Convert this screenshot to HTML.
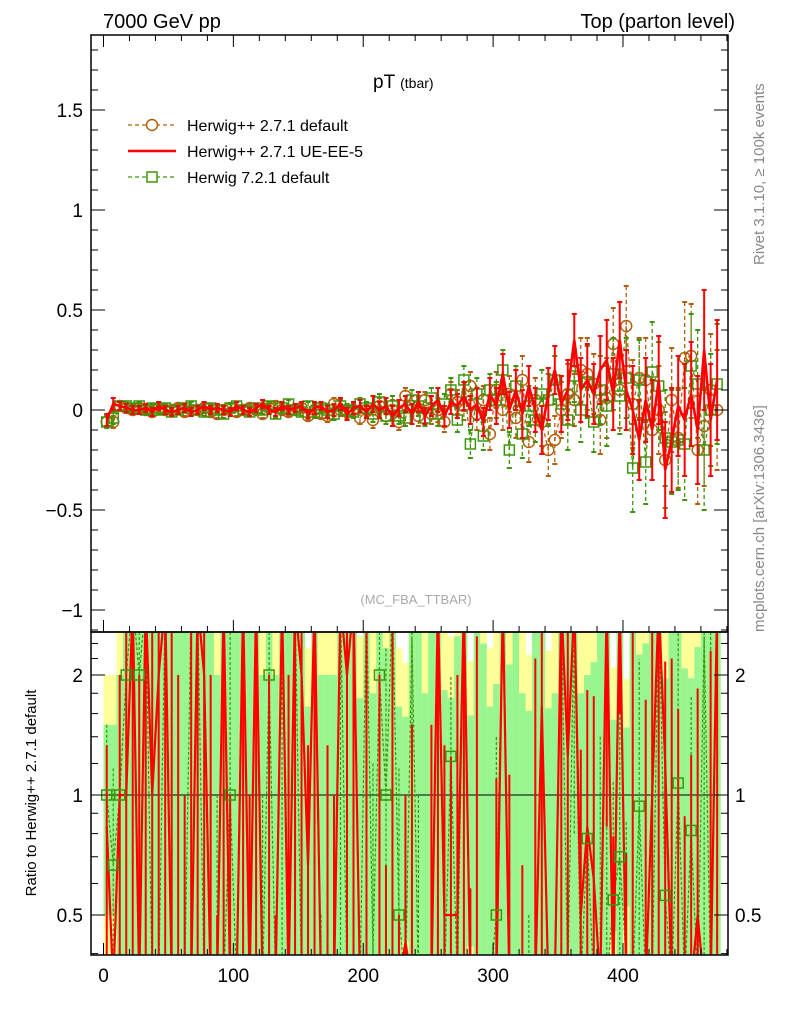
<!DOCTYPE html>
<html><head><meta charset="utf-8"><style>
html,body{margin:0;background:#fff;width:786px;height:1024px;overflow:hidden;}
svg{display:block;font-family:"Liberation Sans",sans-serif;overflow:hidden;}
</style></head><body>
<svg id="c" width="786" height="1024" viewBox="0 0 786 1024"></svg>
<script>
const xs = [];
for (let i = 0; i < 95; i++) xs.push(2.5 + 5 * i);
const brownVals = [-0.06,-0.06,0.02,0.01,0.0,0.01,0.0,-0.01,0.01,0.0, 0.0,0.01,-0.01,0.0,0.0,0.01,-0.01,-0.02,0.0,0.01, -0.01,0.0,0.01,0.0,-0.02,0.01,0.02,0.0,-0.01,0.0, 0.01,-0.03,0.0,-0.02,-0.03,0.03,0.0,-0.01,0.0,-0.04, 0.0,-0.05,0.02,-0.03,0.0,-0.06,
0.07,0.02,-0.03,0.05,-0.02,0.0,-0.06,0.08,0.04,0.02, 0.12,-0.02,0.05,-0.12,0.1,0.0,0.08,-0.04,0.15,-0.16, 0.05,-0.06,-0.2,-0.15,0.0,0.08,0.05,0.2,0.18,0.13, -0.05,0.06,0.33,0.1,0.42,0.03,0.16,0.15,-0.1,0.0, -0.25,0.05,-0.14,0.26,0.27,-0.2,-0.08,0.1,0.0];
const redVals = [-0.05,0.03,0.02,0.01,0.0,0.0,0.01,-0.01,0.02,0.0, -0.01,0.0,0.01,-0.01,0.0,0.02,0.0,0.01,0.0,-0.01, 0.02,0.0,-0.01,0.01,0.03,0.0,-0.01,0.02,0.0,0.01, 0.02,-0.02,0.01,0.02,-0.01,0.0,0.03,-0.02,0.01,0.02, -0.01,0.03,0.0,0.02,-0.03,0.01,
0.03,-0.02,0.04,-0.03,0.02,0.05,-0.03,0.04,0.02,0.07, 0.0,0.03,-0.06,0.08,0.02,0.18,0.0,0.1,-0.02,0.12, 0.0,-0.1,0.08,0.2,0.03,0.1,0.35,0.1,0.15,0.08, 0.2,0.25,0.08,0.35,0.1,0.0,-0.15,0.05,-0.1,0.15, -0.3,-0.15,0.02,-0.05,0.08,-0.1,0.3,-0.05,0.15];
const greenVals = [-0.06,-0.04,0.02,0.02,0.01,0.02,0.0,0.01,0.0,0.01, -0.01,0.0,0.01,0.02,0.0,-0.01,0.01,0.0,-0.02,0.01, 0.02,0.0,-0.01,0.01,0.0,0.02,-0.02,0.01,0.03,0.0, -0.01,0.02,-0.01,0.01,0.0,-0.02,0.02,0.0,-0.01,0.03, 0.01,-0.02,0.04,-0.03,0.02,-0.03,
-0.04,0.05,0.02,-0.04,0.06,-0.02,0.03,0.1,-0.05,0.15, -0.17,0.08,-0.13,0.1,0.05,0.2,-0.2,0.12,-0.12,0.02, -0.05,0.08,0.05,0.15,0.03,-0.05,0.17,0.0,0.14,-0.06, 0.1,0.02,0.18,0.07,0.16,-0.29,0.15,-0.26,0.19,0.12, -0.14,-0.16,-0.15,-0.17,0.22,0.13,-0.2,0.0,0.13];
const errs = [0.03,0.03,0.02,0.02,0.02,0.02,0.02,0.02,0.02,0.02, 0.02,0.02,0.02,0.02,0.02,0.02,0.02,0.02,0.02,0.02, 0.02,0.02,0.02,0.02,0.02,0.02,0.02,0.02,0.02,0.02, 0.02,0.02,0.03,0.02,0.03,0.03,0.03,0.03,0.03,0.03,
0.03,0.04,0.04,0.04,0.05,0.04,0.04,0.05,0.05,0.04, 0.05,0.06,0.05,0.06,0.06,0.07,0.07,0.08,0.07,0.08, 0.09,0.1,0.09,0.1,0.12,0.1,0.11,0.12,0.13,0.12, 0.14,0.15,0.13,0.16,0.18,0.15,0.17,0.2,0.18,0.19, 0.2,0.22,0.2,0.21,0.25,0.22,0.24,0.26,0.25,0.28, 0.26,0.27,0.3,0.28,0.3];
const xTicks = [0,100,200,300,400];
const yTicks = [-1,-0.5,0,0.5,1,1.5];
const yTickLabels = ["\u22121","\u22120.5","0","0.5","1","1.5"];
const rTicks = [0.5,1,2];

const svg = document.getElementById('c');
const NS = 'http://www.w3.org/2000/svg';
function el(tag, attrs, parent) {
  const e = document.createElementNS(NS, tag);
  for (const k in attrs) e.setAttribute(k, attrs[k]);
  (parent || svg).appendChild(e);
  return e;
}
const L = 91, R = 728, T = 35, MB = 632, RB = 955;
const X = v => 103.5 + (v) * 1.2987;
const Y = v => 410 - v * 200;
const RY0 = 795, RK = 120;
const RY = v => v <= 0 ? RB + 30 : RY0 - Math.log2(v) * RK;
const BLUE = '#b35f0e', RED = '#ff0000', GRN = '#3c960a';
const clampR = y => Math.min(RB + 30, Math.max(MB - 30, y));

const defs = el('defs', {});
const cp1 = el('clipPath', {id: 'cm'}, defs); el('rect', {x: L, y: T, width: R - L, height: MB - T}, cp1);
const cp2 = el('clipPath', {id: 'cr'}, defs); el('rect', {x: L, y: MB, width: R - L, height: RB - MB}, cp2);

const gR = el('g', {'clip-path': 'url(#cr)'});


for (let i = 0; i < xs.length; i++) {
  const b = brownVals[i], e = errs[i];
  const rel = Math.abs(b) < 1e-6 ? 1e6 : e / Math.abs(b);
  const x0 = X(xs[i] - 2.5), w = X(xs[i] + 2.5) - x0 + 0.3;
  const yt = clampR(RY(1 + 2 * rel)), yb = clampR(RY(1 - 2 * rel));
  const r1 = el('rect', {x: x0, y: yt, width: w, height: Math.max(0, yb - yt), fill: '#ffff99'}, gR);
  
  
  const gt = clampR(RY(1 + rel)), gb = clampR(RY(1 - rel));
  const r2 = el('rect', {x: x0, y: gt, width: w, height: Math.max(0, gb - gt), fill: '#99f58f'}, gR);
  
  
}
el('line', {x1: L, x2: R, y1: RY(1), y2: RY(1), stroke: '#000', 'stroke-width': 1}, gR);
function ratio(v, i) { const b = brownVals[i]; return Math.abs(b) < 1e-6 ? (v >= 0 ? 1e6 : -1) : v / b; }
let gp = '';
for (let i = 0; i < xs.length; i++) {
  const r = ratio(greenVals[i], i), x = X(xs[i]);
  gp += (i ? 'L' : 'M') + x + ' ' + clampR(RY(r));
  const lo = ratio(greenVals[i] - errs[i], i), hi = ratio(greenVals[i] + errs[i], i);
  el('line', {x1: x, x2: x, y1: clampR(RY(lo)), y2: clampR(RY(hi)), stroke: GRN, 'stroke-width': 1.2, 'stroke-dasharray': '3,2'}, gR);
}
el('path', {d: gp, fill: 'none', stroke: GRN, 'stroke-width': 1.2, 'stroke-dasharray': '3,2'}, gR);
let rp = '';
for (let i = 0; i < xs.length; i++) {
  const r = ratio(redVals[i], i), x = X(xs[i]);
  rp += (i ? 'L' : 'M') + x + ' ' + clampR(RY(r));
  const lo = ratio(redVals[i] - errs[i], i), hi = ratio(redVals[i] + errs[i], i);
  el('line', {x1: x, x2: x, y1: clampR(RY(lo)), y2: clampR(RY(hi)), stroke: RED, 'stroke-width': 2}, gR);
}
el('path', {d: rp, fill: 'none', stroke: RED, 'stroke-width': 2.2}, gR);
for (let i = 0; i < xs.length; i++) {
  const r = ratio(greenVals[i], i);
  if (r > 0.4 && r < 2.5) {
    const s = el('rect', {x: X(xs[i]) - 5, y: RY(r) - 5, width: 10, height: 10, fill: 'none', stroke: GRN, 'stroke-width': 1.5}, gR);
    
    
  }
}

const gM = el('g', {'clip-path': 'url(#cm)'});


function series(vals, color, dash, width, marker, name) {
  const g = el('g', {}, gM);
  
  
  let d = '';
  for (let i = 0; i < xs.length; i++) {
    const x = X(xs[i]), y = Y(vals[i]);
    d += (i ? 'L' : 'M') + x + ' ' + y;
    const y1 = Y(vals[i] + errs[i]), y2 = Y(vals[i] - errs[i]);
    const a = {stroke: color, 'stroke-width': width};
    if (dash) a['stroke-dasharray'] = dash;
    el('line', Object.assign({x1: x, x2: x, y1: y1, y2: y2}, a), g);
    el('line', {x1: x - 2.5, x2: x + 2.5, y1: y1, y2: y1, stroke: color, 'stroke-width': 2}, g);
    el('line', {x1: x - 2.5, x2: x + 2.5, y1: y2, y2: y2, stroke: color, 'stroke-width': 2}, g);
  }
  const p = {d: d, fill: 'none', stroke: color, 'stroke-width': width + (dash ? 0 : 0.6)};
  if (dash) p['stroke-dasharray'] = dash;
  el('path', p, g);
  for (let i = 0; i < xs.length; i++) {
    const x = X(xs[i]), y = Y(vals[i]);
    if (marker === 'c') el('circle', {cx: x, cy: y, r: 5.5, fill: 'none', stroke: color, 'stroke-width': 1.5}, g);
    if (marker === 's') el('rect', {x: x - 5, y: y - 5, width: 10, height: 10, fill: 'none', stroke: color, 'stroke-width': 1.5}, g);
  }
}
series(brownVals, BLUE, '4,3', 1.3, 'c', 'series-herwig-271-default');
series(greenVals, GRN, '4,3', 1.3, 's', 'series-herwig-721-default');
series(redVals, RED, null, 2, null, 'series-herwig-271-ue-ee-5');

const f1 = el('rect', {x: L, y: T, width: R - L, height: MB - T, fill: 'none', stroke: '#000', 'stroke-width': 1.5});
 
const f2 = el('rect', {x: L, y: MB, width: R - L, height: RB - MB, fill: 'none', stroke: '#000', 'stroke-width': 1.5});
 

for (let v = 0; v <= 480; v += 20) {
  const x = X(v), maj = v % 100 === 0, len = maj ? 12 : 6;
  el('line', {x1: x, x2: x, y1: T, y2: T + len, stroke: '#000'});
  el('line', {x1: x, x2: x, y1: MB, y2: MB - len, stroke: '#000'});
  el('line', {x1: x, x2: x, y1: RB, y2: RB - len, stroke: '#000'});
}
xTicks.forEach(v => {
  const t = el('text', {x: X(v), y: 982, 'font-size': 19, 'text-anchor': 'middle'});
  t.textContent = v;
  
  
});
for (let k = -11; k <= 18; k++) {
  const v = k / 10, y = Y(v), maj = k % 5 === 0, len = maj ? 14 : 7;
  el('line', {x1: L, x2: L + len, y1: y, y2: y, stroke: '#000'});
  el('line', {x1: R, x2: R - len, y1: y, y2: y, stroke: '#000'});
}
yTicks.forEach((v, i) => {
  const t = el('text', {x: 83, y: Y(v) + 7, 'font-size': 19, 'text-anchor': 'end'});
  t.textContent = yTickLabels[i];
  
  
});
[0.4,0.5,0.6,0.7,0.8,0.9,1,1.2,1.4,1.6,1.8,2,2.2,2.4].forEach(v => {
  const y = RY(v), maj = rTicks.includes(v), len = maj ? 14 : 7;
  el('line', {x1: L, x2: L + len, y1: y, y2: y, stroke: '#000'});
  el('line', {x1: R, x2: R - len, y1: y, y2: y, stroke: '#000'});
});
rTicks.forEach(v => {
  const t = el('text', {x: 83, y: RY(v) + 7, 'font-size': 19, 'text-anchor': 'end'});
  t.textContent = v;
  
  
  const t2 = el('text', {x: 735, y: RY(v) + 7, 'font-size': 19, 'text-anchor': 'start'});
  t2.textContent = v;
  
  
});

function txt(s, a, name) {
  const t = el('text', a); t.textContent = s;
  
  
  return t;
}
txt('7000 GeV pp', {x: 103, y: 28, 'font-size': 20}, 'header-left');
txt('Top (parton level)', {x: 735, y: 28, 'font-size': 20, 'text-anchor': 'end'}, 'header-right');
const tt = txt('pT ', {x: 373, y: 88, 'font-size': 19}, 'plot-title');
const ts = document.createElementNS(NS, 'tspan'); ts.setAttribute('font-size', '14'); ts.textContent = '(tbar)'; tt.appendChild(ts);
txt('(MC_FBA_TTBAR)', {x: 416, y: 604, 'font-size': 13, fill: '#aaa', 'text-anchor': 'middle'}, 'analysis-id');
txt('Rivet 3.1.10, \u2265 100k events', {x: 0, y: 0, 'font-size': 15, fill: '#888', transform: 'translate(764,265) rotate(-90)'}, 'rivet-label');
txt('mcplots.cern.ch [arXiv:1306.3436]', {x: 0, y: 0, 'font-size': 15, fill: '#888', transform: 'translate(764,632) rotate(-90)'}, 'mcplots-label');
txt('Ratio to Herwig++ 2.7.1 default', {x: 0, y: 0, 'font-size': 15, 'text-anchor': 'middle', transform: 'translate(36,793) rotate(-90)'}, 'ratio-y-title');

const lg = el('g', {});  
const ly = [125, 151, 177];
el('line', {x1: 128, x2: 175, y1: ly[0], y2: ly[0], stroke: BLUE, 'stroke-width': 1.3, 'stroke-dasharray': '4,3'}, lg);
el('circle', {cx: 152, cy: ly[0], r: 5.5, fill: '#fff', stroke: BLUE, 'stroke-width': 1.5}, lg);
el('line', {x1: 128, x2: 176, y1: ly[1], y2: ly[1], stroke: RED, 'stroke-width': 2.5}, lg);
el('line', {x1: 128, x2: 175, y1: ly[2], y2: ly[2], stroke: GRN, 'stroke-width': 1.3, 'stroke-dasharray': '4,3'}, lg);
el('rect', {x: 147, y: ly[2] - 5, width: 10, height: 10, fill: '#fff', stroke: GRN, 'stroke-width': 1.5}, lg);
['Herwig++ 2.7.1 default', 'Herwig++ 2.7.1 UE-EE-5', 'Herwig 7.2.1 default'].forEach((s, i) => {
  const t = el('text', {x: 187, y: ly[i] + 6, 'font-size': 16}, lg); t.textContent = s;
  
  
});
</script>
</body></html>
